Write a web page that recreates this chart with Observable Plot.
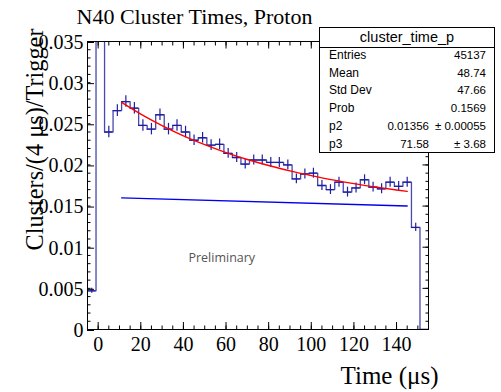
<!DOCTYPE html>
<html><head><meta charset="utf-8">
<script src="https://cdn.jsdelivr.net/npm/d3@7"></script>
<script src="https://cdn.jsdelivr.net/npm/@observablehq/plot@0.6"></script>
<style>
body{margin:0;background:#fff;}
#wrap{position:relative;width:501px;height:392px;overflow:hidden;background:#fff;}
#stats{position:absolute;left:319px;top:27px;width:176px;height:126px;border:1px solid #000;background:#fff;box-sizing:border-box;font-family:"Liberation Sans",Arial,sans-serif;color:#000;}
#stats .hdr{position:absolute;left:0;right:0;top:0;height:19px;border-bottom:1px solid #000;text-align:center;font-size:14.5px;line-height:19px;}
#stats .row{position:absolute;left:0;right:0;height:17.7px;line-height:17.7px;}
#stats .lab{position:absolute;left:9px;font-size:12px;}
#stats .val{position:absolute;right:8px;font-size:11.5px;}
#stats .mid{position:absolute;right:65px;font-size:11.5px;}
</style></head>
<body><div id="wrap"></div>
<script>
// ---- data ----
const binLow = [-5,-1,3,7,11,15,19,23,27,31,35,39,43,47,51,55,59,63,67,71,75,79,83,87,91,95,99,103,107,111,115,119,123,127,131,135,139,143,147,151];
const counts = [0.0047,0.05,0.0240,0.0266,0.0277,0.0269,0.0248,0.02435,0.0261,0.02435,0.0248,0.0240,0.0230,0.0233,0.0224,0.0225,0.0214,0.0209,0.0201,0.0206,0.0206,0.0203,0.0203,0.0200,0.0183,0.0189,0.0190,0.0175,0.0170,0.0179,0.0167,0.0172,0.0182,0.0173,0.0171,0.0179,0.0174,0.0179,0.0124,0];
const errs   = [0.0003,0.0009,0.0007,0.0007,0.0007,0.0007,0.0007,0.0007,0.0007,0.0007,0.0007,0.0007,0.00065,0.00065,0.00065,0.00065,0.0006,0.0006,0.0006,0.0006,0.0006,0.0006,0.0006,0.0006,0.0006,0.0006,0.0006,0.0006,0.0006,0.0006,0.0006,0.0006,0.0006,0.0006,0.0006,0.0006,0.0006,0.0006,0.0005,0];
const binWidth = 4;
const xEnd = 155;

const fitT = [11,20,30,40,50,60,70,80,90,100,110,120,130,140,145];
const fitV = [0.0276,0.02618,0.02478,0.02354,0.02246,0.0215,0.02066,0.01993,0.01927,0.0187,0.01818,0.01773,0.01732,0.01696,0.01679];
const bkgT = [11,145];
const bkgV = [0.0160,0.0150];

const xTicks = [0,20,40,60,80,100,120,140];
const yTicks = [0,0.005,0.01,0.015,0.02,0.025,0.03,0.035];
const yTickLabels = ["0","0.005","0.01","0.015","0.02","0.025","0.03","0.035"];

const titleText = "N40 Cluster Times, Proton";
const xLabel = "Time (\u03bcs)";
const yLabel = "Clusters/(4 \u03bcs)/Trigger";
const notes = [{x: 58, y: 0.00865, text: "Preliminary"}];

const statsTitle = "cluster_time_p";
const statsRows = [["Entries","45137",""],["Mean","48.74",""],["Std Dev","47.66",""],["Prob","0.1569",""],["p2","0.01356","\u00b1 0.00055"],["p3","71.58","\u00b1 3.68"]];

// ---- tables ----
const stepData = binLow.map((x,i)=>({x, y: counts[i]})).concat([{x: xEnd, y: 0}]);
const bins = binLow.map((x,i)=>({lo: x, hi: x + binWidth, c: x + binWidth/2, v: counts[i], e: errs[i]}));
const fit = fitT.map((t,i)=>({t, v: fitV[i]}));
const bkg = bkgT.map((t,i)=>({t, v: bkgV[i]}));

const serif = "'Liberation Serif','Times New Roman',serif";
const minorX = d3.range(-5, 156, 5);
const minorY = d3.ticks(0, 0.035, 35);
const fmtY = d => yTickLabels[yTicks.indexOf(d)];

const stepColor = "#4848b0";
const errColor = "#1e1ea0";

const chart = Plot.plot({
  width: 501, height: 392,
  marginLeft: 87, marginRight: 73, marginTop: 41, marginBottom: 63,
  x: {domain: [-5, xEnd], label: null},
  y: {domain: [0, 0.035], label: null},
  style: {fontFamily: serif, background: "#fff", color: "#000"},
  marks: [
    Plot.line(bkg, {x: "t", y: "v", stroke: "#0000ee", strokeWidth: 1.4}),
    Plot.line(stepData, {x: "x", y: "y", curve: "step-after", stroke: stepColor, strokeWidth: 1.3, clip: true}),
    Plot.ruleY(bins, {y: "v", x1: "lo", x2: "hi", stroke: errColor, strokeWidth: 1.2, clip: true}),
    Plot.ruleX(bins, {x: "c", y1: d => d.v - d.e, y2: d => d.v + d.e, stroke: errColor, strokeWidth: 1.2, clip: true}),
    Plot.line(fit, {x: "t", y: "v", curve: "natural", stroke: "#ff0000", strokeWidth: 1.4}),
    Plot.text(notes, {x: "x", y: "y", text: "text", fill: "#555", fontSize: 12.5, fontFamily: "'Open Sans',Lato,sans-serif"}),
    Plot.frame({stroke: "#000", strokeWidth: 1}),
    // bottom axis
    Plot.axisX({anchor: "bottom", ticks: minorX, tickSize: -3.5, text: null, label: null}),
    Plot.axisX({anchor: "bottom", ticks: xTicks, tickSize: -7, tickPadding: 14.5, fontSize: 20, tickFormat: d => String(d), label: null}),
    // top axis
    Plot.axisX({anchor: "top", ticks: minorX, tickSize: -3.5, text: null, label: null}),
    Plot.axisX({anchor: "top", ticks: xTicks, tickSize: -6.5, text: null, label: null}),
    // left axis
    Plot.axisY({anchor: "left", ticks: minorY, tickSize: -3.5, text: null, label: null}),
    Plot.axisY({anchor: "left", ticks: yTicks, tickSize: -7, tickPadding: 11, fontSize: 20, tickFormat: fmtY, dy: 1, label: null}),
    // right axis
    Plot.axisY({anchor: "right", ticks: minorY, tickSize: -3.5, text: null, label: null}),
    Plot.axisY({anchor: "right", ticks: yTicks, tickSize: -6.5, text: null, label: null}),
    // titles
    Plot.text([titleText], {frameAnchor: "top-left", dx: -11, dy: -18, textAnchor: "start", lineAnchor: "bottom", fontSize: 22, fontFamily: serif}),
    Plot.text([xLabel], {frameAnchor: "bottom-right", dx: 10, dy: 54, textAnchor: "end", fontSize: 25, fontFamily: serif}),
    Plot.text([yLabel], {frameAnchor: "top-left", rotate: -90, dx: -62, dy: -13, textAnchor: "end", fontSize: 24.3, fontFamily: serif})
  ]
});

const wrap = document.getElementById("wrap");
wrap.appendChild(chart);

// statistics box
const box = document.createElement("div");
box.id = "stats";
const hdr = document.createElement("div");
hdr.className = "hdr"; hdr.textContent = statsTitle;
box.appendChild(hdr);
statsRows.forEach((r, i) => {
  const row = document.createElement("div");
  row.className = "row";
  row.style.top = (19 + i * 17.7) + "px";
  const lab = document.createElement("span"); lab.className = "lab"; lab.textContent = r[0];
  row.appendChild(lab);
  if (r[2]) {
    const mid = document.createElement("span"); mid.className = "mid"; mid.textContent = r[1];
    const val = document.createElement("span"); val.className = "val"; val.textContent = r[2];
    row.appendChild(mid); row.appendChild(val);
  } else {
    const val = document.createElement("span"); val.className = "val"; val.textContent = r[1];
    row.appendChild(val);
  }
  box.appendChild(row);
});
wrap.appendChild(box);
</script>
</body></html>
